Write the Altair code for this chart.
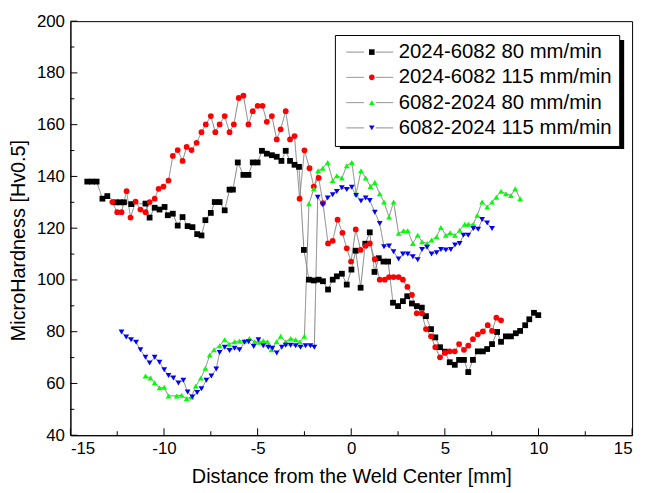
import altair as alt
import pandas as pd

# ---- series names / styles ----
names = ["2024-6082 80 mm/min", "2024-6082 115 mm/min",
         "6082-2024 80 mm/min", "6082-2024 115 mm/min"]
keys = ["a", "b", "c", "d"]
colors = ["#000000", "#ff0000", "#00ff00", "#0000ff"]
shapes = ["square", "circle", "triangle-up", "triangle-down"]

# ---- data ----
black_x = [-14.1, -13.85, -13.6, -13.29, -13.03, -12.58, -12.35, -12.14, -11.75, -10.99, -10.77, -10.5,
           -10.24, -9.97, -9.8, -9.53, -9.27, -9.01, -8.74, -8.48, -8.23, -8.0, -7.79, -7.5, -7.29, -7.03,
           -6.76, -6.5, -6.32, -6.06, -5.76, -5.49, -5.26, -5.0, -4.77, -4.51, -4.24, -3.98, -3.73, -3.5,
           -3.27, -3.03, -2.79, -2.53, -2.26, -2.0, -1.74, -1.51, -1.24, -0.99, -0.77, -0.5, -0.24, 0.01,
           0.24, 0.5, 0.75, 0.99, 1.24, 1.47, 1.72, 1.97, 2.23, 2.5, 2.76, 2.99, 3.24, 3.5, 3.77, 3.99,
           4.26, 4.49, 4.74, 5.0, 5.26, 5.53, 5.76, 6.02, 6.25, 6.5, 6.76, 7.03, 7.26, 7.52, 7.79, 8.0,
           8.26, 8.53, 8.79, 9.02, 9.29, 9.51, 9.76, 9.99]
black_y = [138, 138, 138, 131.4, 132.4, 130, 130, 130, 129.3, 129.5, 124.1, 127.9,
           127.2, 128.2, 125.0, 125.6, 121.0, 124.3, 120.8, 120.4, 117.7, 117.2, 123.1, 125.9, 130.1, 130.1,
           126.9, 134.9, 134.9, 145.4, 140.6, 140.6, 145.4, 145.4, 149.9, 148.8, 148.2, 147.6, 146.0, 149.9,
           146.0, 144.5, 143.7, 111.6, 100.1, 99.8, 100.1, 99.5, 96.3, 100.1, 101.4, 102.4, 98.2, 104.0,
           111.3, 97.0, 114.0, 118.4, 103.1, 108.4, 107.1, 107.1, 91.2, 89.9, 91.8, 93.7, 90.9, 89.9, 89.3, 86.0,
           81.0, 77.8, 74.0, 72.3, 68.2, 67.2, 69.1, 69.1, 64.4, 69.1, 72.4, 72.4, 73.3, 75.2, 79.9, 76.1,
           78.2, 78.2, 79.4, 80.3, 82.5, 84.8, 87.3, 86.4]

red_x = [-12.76, -12.5, -12.27, -12.0, -11.79, -11.52, -11.26, -10.99, -10.77, -10.5, -10.29, -10.03,
         -9.76, -9.53, -9.27, -9.01, -8.79, -8.53, -8.26, -8.0, -7.77, -7.5, -7.26, -7.03, -6.76, -6.5,
         -6.27, -6.01, -5.76, -5.49, -5.26, -5.0, -4.74, -4.51, -4.24, -3.98, -3.77, -3.5, -3.27, -3.03,
         -2.76, -2.5, -2.23, -2.0, -1.74, -1.51, -1.24, -0.99, -0.73, -0.47, -0.24, -0.01, 0.24, 0.5,
         0.77, 0.99, 1.26, 1.52, 1.79, 2.02, 2.26, 2.53, 2.76, 3.0, 3.24, 3.5, 3.77, 3.99, 4.26, 4.49,
         4.74, 5.0, 5.26, 5.53, 5.76, 6.02, 6.25, 6.5, 6.76, 7.03, 7.29, 7.52, 7.75, 8.0]
red_y = [130.1, 126.2, 126.2, 134.3, 124.1, 130.3, 127.2, 126.2, 130.1, 131.4, 135.2, 136.1,
         138.4, 147.9, 150.2, 146.0, 151.4, 150.2, 153.0, 157.1, 160.1, 163.3, 157.1, 160.1, 163.3, 157.1,
         160.1, 170.3, 171.2, 160.1, 165.2, 167.3, 167.3, 161.1, 163.3, 154.3, 158.2, 165.2, 154.3, 155.6,
         131.4, 150.1, 143.2, 136.1, 139.4, 129.7, 114.1, 115.1, 123.3, 118.2, 112.2, 107.1, 119.5, 111.6,
         113.2, 114.1, 108.0, 100.1, 100.1, 101.1, 101.1, 101.1, 100.1, 97.3, 94.2, 87.1, 87.1, 81.0, 78.2, 74.0,
         70.1, 71.8, 72.4, 72.4, 75.2, 73.0, 74.6, 77.1, 79.0, 80.1, 82.5, 80.3, 85.4, 84.4]

green_x = [-10.99, -10.73, -10.5, -10.24, -9.99, -9.76, -9.32, -9.06, -8.79, -8.53, -8.3, -8.03,
           -7.79, -7.56, -7.33, -7.03, -6.76, -6.53, -6.23, -5.97, -5.7, -5.44, -5.17, -4.91, -4.7, -4.47,
           -4.26, -3.99, -3.77, -3.5, -3.24, -2.97, -2.74, -2.5, -2.26, -2.0, -1.77, -1.52, -1.26, -0.99,
           -0.77, -0.5, -0.24, 0.03, 0.26, 0.52, 0.77, 1.03, 1.26, 1.52, 1.75, 2.02, 2.26, 2.53, 2.79, 3.02,
           3.29, 3.55, 3.78, 4.05, 4.29, 4.56, 4.79, 5.05, 5.28, 5.54, 5.79, 6.06, 6.25, 6.52, 6.73, 6.99,
           7.26, 7.52, 7.75, 8.0, 8.26, 8.53, 8.76, 9.02]
green_y = [62.9, 62.1, 60.3, 58.3, 58.5, 55.2, 55.2, 55.4, 54.2, 54.8, 59.0, 62.1,
           65.9, 71.0, 73.0, 74.6, 76.9, 75.2, 76.1, 76.4, 76.4, 77.4, 76.1, 75.9, 76.5, 76.1,
           73.0, 76.1, 78.2, 76.1, 77.4, 76.9, 76.1, 78.2, 129.4, 135.2, 142.2, 143.2, 145.4, 138.4,
           140.3, 139.4, 144.1, 145.4, 133.3, 142.2, 139.4, 136.1, 137.7, 133.3, 130.1, 124.3, 130.1, 118.0, 119.0, 119.0,
           114.1, 117.3, 114.8, 114.1, 115.4, 116.7, 120.3, 117.3, 118.2, 117.3, 119.2, 121.5, 121.5, 121.5, 125.0, 130.1,
           128.2, 130.1, 132.0, 134.3, 133.3, 132.6, 135.2, 131.4]

blue_x = [-12.27, -12.02, -11.76, -11.49, -11.26, -10.99, -10.77, -10.5, -10.24, -9.99, -9.76, -9.5,
          -9.23, -8.97, -8.74, -8.49, -8.23, -8.0, -7.74, -7.47, -7.21, -7.03, -6.76, -6.5, -6.23, -5.97,
          -5.7, -5.48, -5.21, -4.96, -4.7, -4.43, -4.21, -3.98, -3.71, -3.5, -3.24, -2.97, -2.71, -2.44,
          -2.18, -1.97, -1.79, -1.52, -1.26, -0.99, -0.77, -0.5, -0.24, 0.03, 0.26, 0.52, 0.77, 0.99,
          1.26, 1.52, 1.75, 2.02, 2.26, 2.53, 2.76, 3.02, 3.29, 3.55, 3.78, 4.05, 4.29, 4.56, 4.79, 5.05,
          5.32, 5.54, 5.79, 5.99, 6.25, 6.52, 6.78, 6.99, 7.26, 7.52]
blue_y = [79.9, 78.0, 76.9, 75.9, 73.0, 70.1, 67.9, 70.1, 68.2, 65.3, 63.1, 62.1,
          60.2, 61.2, 56.7, 54.8, 56.5, 58.0, 61.2, 62.9, 65.6, 72.0, 74.0, 72.7, 73.6, 73.0,
          75.9, 76.1, 74.3, 76.9, 74.6, 74.0, 73.6, 71.8, 74.0, 74.8, 74.8, 74.6, 74.0, 74.6,
          74.6, 74.0, 132.0, 129.1, 131.7, 132.9, 134.2, 135.6, 134.9, 135.8, 132.6, 130.5, 131.7, 130.7,
          126.2, 121.8, 112.8, 113.1, 110.9, 108.1, 110.0, 110.0, 109.0, 107.8, 111.8, 112.6, 110.0, 110.5, 111.8, 111.6,
          111.8, 113.5, 114.1, 117.3, 117.3, 119.9, 119.6, 123.4, 122.0, 119.9]

x_major = [-15, -10, -5, 0, 5, 10, 15]
x_minor = [-12.5, -7.5, -2.5, 2.5, 7.5, 12.5]
y_major = [40, 60, 80, 100, 120, 140, 160, 180, 200]
y_minor = [50, 70, 90, 110, 130, 150, 170, 190]

# ---- build table ----
rows = []
for name, key, xs, ys in zip(names, keys,
                             [black_x, red_x, green_x, blue_x],
                             [black_y, red_y, green_y, blue_y]):
    for xv, yv in zip(xs, ys):
        rows.append({"series": name, "key": key, "x": xv, "y": yv})
df = pd.DataFrame(rows)

W, H = 567, 418
FONT = "Liberation Sans"

xscale = alt.Scale(domain=[-15, 15], nice=False, zero=False)
yscale = alt.Scale(domain=[40, 200], nice=False, zero=False)
x_axis = alt.Axis(values=x_major, title="Distance from the Weld Center [mm]",
                  labelExpr="'' + datum.value", labelPadding=5,
                  titleBaseline="alphabetic", titleY=48)
y_axis = alt.Axis(values=y_major, title="MicroHardness [Hv0.5]",
                  labelExpr="'' + datum.value", labelPadding=6,
                  titleBaseline="alphabetic", titleX=-46, titleY=221, titleAngle=-90)

LX, LY = 267, 14

line_legend = alt.Legend(
    title=None, orient="none", legendX=LX, legendY=LY,
    symbolType="M-5.9,0H-1.5M1.5,0H5.9", symbolSize=64,
    symbolStrokeColor="#808080", symbolStrokeWidth=1, symbolOffset=18,
    labelOffset=19, labelLimit=0, labelFont=FONT, labelFontSize=20.5, labelColor="black",
    padding=7, rowPadding=4.5, strokeColor="black", fillColor="white",
)
point_legend = alt.Legend(
    title=None, orient="none", legendX=LX, legendY=LY,
    symbolSize=32, symbolStrokeWidth=0, symbolOffset=20, symbolOpacity=1,
    labelFont=FONT, labelFontSize=20.5, labelExpr="' '", labelLimit=0,
    padding=7, rowPadding=4.5,
)

shadow = alt.Chart(pd.DataFrame({"k": [0]})).mark_rect(color="black").encode(
    x=alt.value(LX + 5), x2=alt.value(LX + 292), y=alt.value(LY + 5), y2=alt.value(LY + 115)
)

lines = alt.Chart(df).mark_line(color="#808080", strokeWidth=1).encode(
    x=alt.X("x:Q", scale=xscale, axis=x_axis),
    y=alt.Y("y:Q", scale=yscale, axis=y_axis),
    strokeDash=alt.StrokeDash("series:N", scale=alt.Scale(domain=names, range=[[1, 0]] * 4),
                              legend=line_legend),
)

points = alt.Chart(df).mark_point(filled=True, opacity=1, strokeWidth=0, size=34).encode(
    x=alt.X("x:Q", scale=xscale, axis=x_axis),
    y=alt.Y("y:Q", scale=yscale, axis=y_axis),
    color=alt.Color("key:N", scale=alt.Scale(domain=keys, range=colors), legend=point_legend),
    shape=alt.Shape("key:N", scale=alt.Scale(domain=keys, range=shapes), legend=point_legend),
    order=alt.Order("key:N"),
)

xt_major = alt.Chart(pd.DataFrame({"x": x_major})).mark_rule(color="black", strokeWidth=1).encode(
    x=alt.X("x:Q", scale=xscale, axis=x_axis), y=alt.value(H), y2=alt.value(H - 7))
xt_minor = alt.Chart(pd.DataFrame({"x": x_minor})).mark_rule(color="black", strokeWidth=1).encode(
    x=alt.X("x:Q", scale=xscale, axis=x_axis), y=alt.value(H), y2=alt.value(H - 4))
yt_major = alt.Chart(pd.DataFrame({"y": y_major})).mark_rule(color="black", strokeWidth=1).encode(
    y=alt.Y("y:Q", scale=yscale, axis=y_axis), x=alt.value(0), x2=alt.value(7))
yt_minor = alt.Chart(pd.DataFrame({"y": y_minor})).mark_rule(color="black", strokeWidth=1).encode(
    y=alt.Y("y:Q", scale=yscale, axis=y_axis), x=alt.value(0), x2=alt.value(4))

chart = alt.layer(lines, shadow, points, xt_major, xt_minor, yt_major, yt_minor).properties(
    width=W, height=H,
    padding={"left": 63, "top": 11, "right": 9, "bottom": 50},
    autosize=alt.AutoSizeParams(type="none"),
    background="white",
).configure_view(
    stroke="black", strokeWidth=1
).configure_axis(
    grid=False, ticks=False, tickSize=0,
    domainColor="black", domainWidth=1,
    labelColor="black", titleColor="black",
    labelFont=FONT, titleFont=FONT,
    labelFontSize=17, titleFontSize=20, titleFontWeight="normal",
)

chart.save("out.html", embed_options={"renderer": "svg", "actions": False})
